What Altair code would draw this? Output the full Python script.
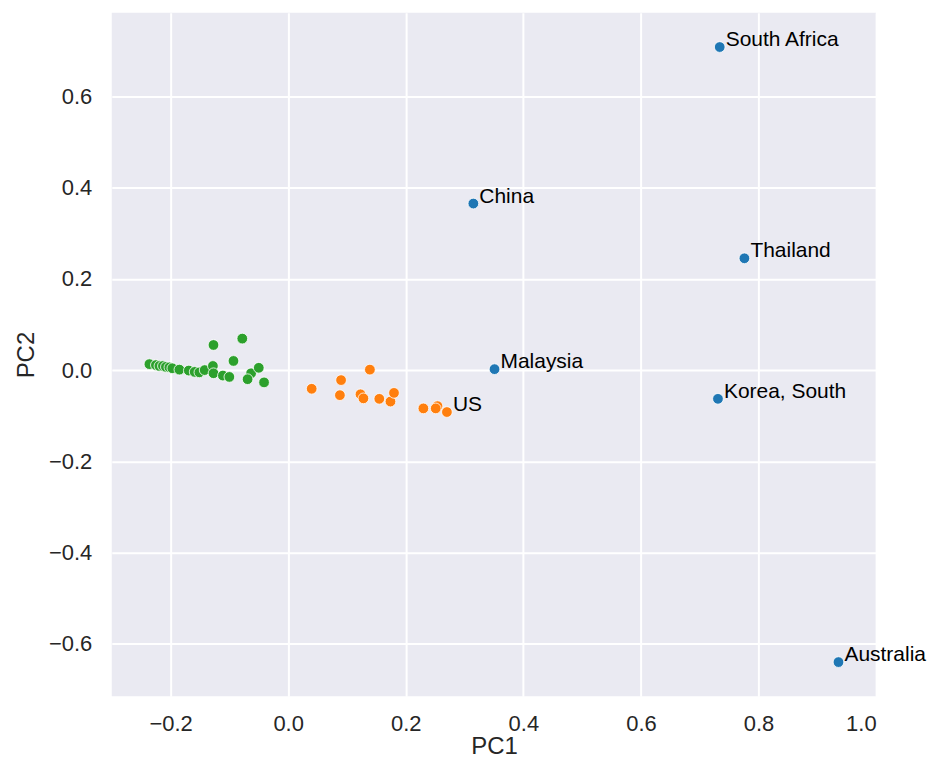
import altair as alt
import pandas as pd

# Blue group (labelled)
blue_names = ["South Africa", "China", "Thailand", "Malaysia", "Korea, South", "Australia"]
blue_pc1 = [0.734, 0.315, 0.776, 0.351, 0.731, 0.936]
blue_pc2 = [0.708, 0.365, 0.245, 0.002, -0.063, -0.640]

# Orange group
orange_names = ["o1", "o2", "o3", "o4", "o5", "o6", "o7", "o8", "o9", "o10", "o11", "o12", "US"]
orange_pc1 = [0.040, 0.090, 0.088, 0.139, 0.123, 0.128, 0.155, 0.174, 0.180, 0.230, 0.254, 0.251, 0.270]
orange_pc2 = [-0.041, -0.022, -0.055, 0.001, -0.053, -0.062, -0.063, -0.069, -0.050, -0.084, -0.079, -0.084, -0.092]

# Green group
green_pc1 = [-0.236, -0.225, -0.219, -0.213, -0.208, -0.202, -0.197, -0.185, -0.169, -0.159,
             -0.151, -0.142, -0.127, -0.128, -0.127, -0.111, -0.100, -0.093, -0.078, -0.063,
             -0.069, -0.050, -0.041]
green_pc2 = [0.013, 0.011, 0.009, 0.009, 0.007, 0.006, 0.004, 0.001, -0.001, -0.004,
             -0.005, 0.000, 0.055, 0.009, -0.007, -0.012, -0.015, 0.020, 0.069, -0.007,
             -0.020, 0.005, -0.027]

labelled = ["South Africa", "China", "Thailand", "Malaysia", "Korea, South", "Australia", "US"]

rows = []
for n, x, y in zip(blue_names, blue_pc1, blue_pc2):
    rows.append({"name": n, "PC1": x, "PC2": y, "group": "A"})
for n, x, y in zip(orange_names, orange_pc1, orange_pc2):
    rows.append({"name": n, "PC1": x, "PC2": y, "group": "B"})
for i, (x, y) in enumerate(zip(green_pc1, green_pc2)):
    rows.append({"name": f"g{i}", "PC1": x, "PC2": y, "group": "C"})
df = pd.DataFrame(rows)
df["label"] = df["name"].where(df["name"].isin(labelled), "")

xs = alt.Scale(domain=[-0.3, 1.0], nice=False, zero=False)
ys = alt.Scale(domain=[-0.715, 0.783], nice=False, zero=False)

base = alt.Chart(df)

points = base.mark_point(filled=True, size=115, opacity=1, stroke="white", strokeWidth=0.8).encode(
    x=alt.X("PC1:Q", scale=xs,
            axis=alt.Axis(values=[-0.2, 0.0, 0.2, 0.4, 0.6, 0.8, 1.0], format=".1f", title="PC1")),
    y=alt.Y("PC2:Q", scale=ys,
            axis=alt.Axis(values=[-0.6, -0.4, -0.2, 0.0, 0.2, 0.4, 0.6], format=".1f", title="PC2")),
    fill=alt.Fill("group:N", scale=alt.Scale(domain=["A", "B", "C"],
                                             range=["#1f77b4", "#ff7f0e", "#2ca02c"]), legend=None),
)

texts = base.transform_filter("datum.label != ''").mark_text(
    align="left", baseline="alphabetic", dx=6, dy=-1, fontSize=21, font="Liberation Sans", color="black"
).encode(x=alt.X("PC1:Q", scale=xs), y=alt.Y("PC2:Q", scale=ys), text="label:N")

chart = (points + texts).properties(
    width=766, height=685,
    autosize=alt.AutoSizeParams(type="none"),
    padding={"left": 104, "top": 4, "right": 52, "bottom": 61},
).configure_view(
    fill="#EAEAF2", stroke=None
).configure_axis(
    grid=True, gridColor="white", gridWidth=2, domain=False, ticks=False,
    labelFont="Liberation Sans", labelFontSize=22, labelColor="#262626",
    titleFont="Liberation Sans", titleFontSize=24, titleColor="#262626", titleFontWeight="normal",
).configure_axisX(
    labelPadding=17, titleBaseline="alphabetic", titleY=57
).configure_axisY(
    labelPadding=20, titlePadding=10
)

chart.save("out.html", embed_options={"renderer": "svg", "actions": False})
